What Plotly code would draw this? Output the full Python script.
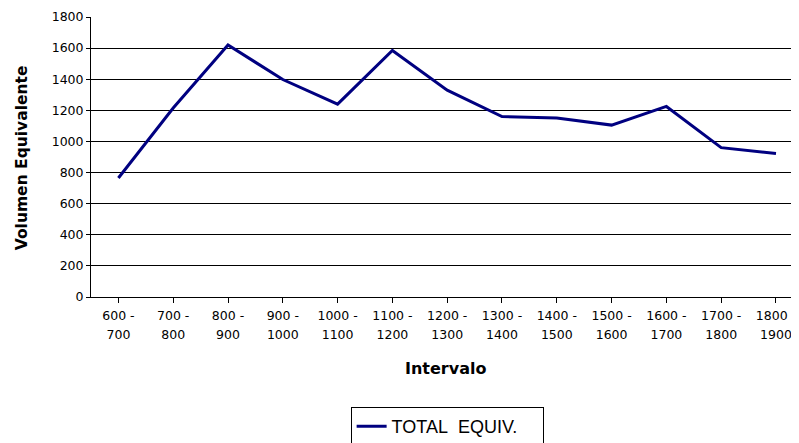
import plotly.graph_objects as go

categories = ["600 -<br>700", "700 -<br>800", "800 -<br>900", "900 -<br>1000", "1000 -<br>1100",
              "1100 -<br>1200", "1200 -<br>1300", "1300 -<br>1400", "1400 -<br>1500",
              "1500 -<br>1600", "1600 -<br>1700", "1700 -<br>1800", "1800 -<br>1900"]
total_equiv = [765, 1215, 1620, 1398, 1240, 1585, 1330, 1160, 1150, 1105, 1225, 960, 922]
y_ticks = [0, 200, 400, 600, 800, 1000, 1200, 1400, 1600, 1800]

TICKFONT = "DejaVu Sans, sans-serif"
FONT = "Liberation Sans, Arial, sans-serif"
xpos = list(range(len(categories)))
ticktext = ["<span style='font-size:12.5px'>%s</span>" % c for c in categories]

fig = go.Figure()
fig.add_trace(go.Scatter(
    x=xpos, y=total_equiv, mode="lines",
    name="TOTAL\u00a0\u00a0EQUIV.\u00a0\u00a0\u00a0\u00a0",
    line=dict(color="#000080", width=3),
))

# page body has an 8px margin; figure sized so the plot lands where the reference has it
fig.update_layout(
    width=791, height=443,
    margin=dict(l=83, r=0, t=9, b=154),
    plot_bgcolor="white", paper_bgcolor="white",
    font=dict(family=FONT, color="black", size=11),
    showlegend=True,
    legend=dict(
        orientation="h", x=0.503, xanchor="center", y=-0.393, yanchor="top",
        bordercolor="black", borderwidth=1, bgcolor="white",
        font=dict(family=FONT, size=18, color="black"),
    ),
    xaxis=dict(
        tickmode="array", tickvals=xpos, ticktext=ticktext,
        range=[-0.5, 12.42], showgrid=False, zeroline=False,
        showline=True, linecolor="black", linewidth=1,
        ticks="outside", ticklen=5, tickcolor="black",
        tickfont=dict(family=TICKFONT, size=14.2, color="black"),
    ),
    yaxis=dict(
        range=[0, 1800], tickvals=y_ticks, showgrid=True,
        gridcolor="black", gridwidth=1, zeroline=False,
        showline=True, linecolor="black", linewidth=1,
        ticks="outside", ticklen=4, tickcolor="black",
        tickfont=dict(family=TICKFONT, size=12.5, color="black"),
    ),
    annotations=[
        dict(text="<b>Volumen Equivalente</b>", xref="paper", yref="paper",
             x=-0.098, y=0.498, xanchor="center", yanchor="middle",
             textangle=-90, showarrow=False,
             font=dict(family=TICKFONT, size=15.5, color="black")),
        dict(text="<b>Intervalo</b>", xref="paper", yref="paper",
             x=0.5014, y=-0.2536, xanchor="center", yanchor="middle",
             showarrow=False,
             font=dict(family=TICKFONT, size=16, color="black")),
    ],
)

fig.write_html("out.html")
